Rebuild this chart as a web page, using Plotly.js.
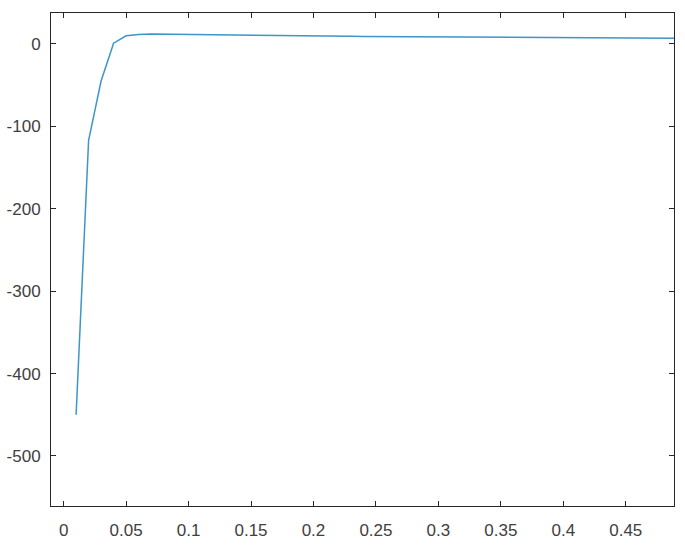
<!DOCTYPE html>
<html>
<head>
<meta charset="utf-8">
<script src="https://cdn.plot.ly/plotly-3.0.1.min.js"></script>
<style>html,body{margin:0;padding:0;background:#fff;}#chart{width:685px;height:547px;}</style>
</head>
<body>
<div id="chart"></div>
<script>
const xValues = [0.01,0.02,0.03,0.04,0.05,0.06,0.07,0.08,0.09,0.10,
  0.11,0.12,0.13,0.14,0.15,0.16,0.17,0.18,0.19,0.20,
  0.21,0.22,0.23,0.24,0.25,0.26,0.27,0.28,0.29,0.30,
  0.31,0.32,0.33,0.34,0.35,0.36,0.37,0.38,0.39,0.40,
  0.41,0.42,0.43,0.44,0.45,0.46,0.47,0.48,0.49];
const yValues = [-450,-117,-45,1,10,11.6,12,11.9,11.6,11.3,
  11.1,10.9,10.7,10.6,10.4,10.3,10.1,10.0,9.8,9.7,
  9.6,9.5,9.4,9.2,9.1,9.0,8.9,8.8,8.7,8.6,
  8.5,8.4,8.3,8.2,8.1,8.0,7.9,7.85,7.8,7.7,
  7.6,7.55,7.5,7.4,7.3,7.25,7.15,7.1,7.0];
const yTickVals = [0,-100,-200,-300,-400,-500];
const yTickText = ['0','-100','-200','-300','-400','-500'];
const xTickVals = [0,0.05,0.1,0.15,0.2,0.25,0.3,0.35,0.4,0.45];
const xTickText = ['0','0.05','0.1','0.15','0.2','0.25','0.3','0.35','0.4','0.45'];

const axisCommon = {
  showline: true, linecolor: '#262626', linewidth: 1, mirror: 'ticks',
  ticks: 'inside', ticklen: 5, tickcolor: '#262626', tickwidth: 1,
  showgrid: false, zeroline: false,
  tickfont: {family: 'Liberation Sans, Arial, sans-serif', size: 17, color: '#404040'}
};

Plotly.newPlot('chart', [{
  x: xValues, y: yValues, type: 'scatter', mode: 'lines',
  line: {color: '#3c96c8', width: 1.5}
}], {
  width: 685, height: 547,
  margin: {l: 51, r: 11, t: 13, b: 41},
  paper_bgcolor: '#ffffff', plot_bgcolor: '#ffffff',
  showlegend: false,
  xaxis: Object.assign({}, axisCommon, {range: [-0.0101, 0.4886], tickvals: xTickVals, ticktext: xTickText, ticklabelstandoff: 9}),
  yaxis: Object.assign({}, axisCommon, {range: [-560.7, 37.6], tickvals: yTickVals, ticktext: yTickText, ticklabelstandoff: 6})
}, {displayModeBar: false, staticPlot: true});
</script>
</body>
</html>
